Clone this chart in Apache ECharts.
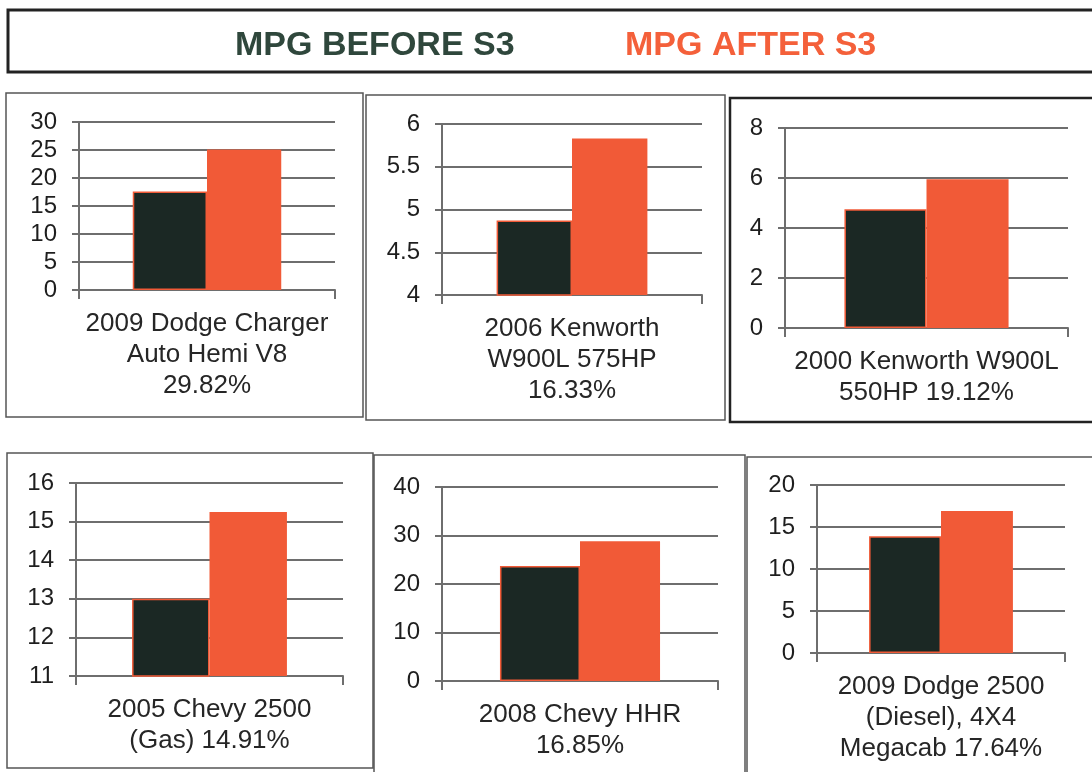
<!DOCTYPE html>
<html>
<head>
<meta charset="utf-8">
<script src="https://cdn.jsdelivr.net/npm/echarts@6/dist/echarts.min.js"></script>
<style>
html,body{margin:0;padding:0;background:#fff;}
#chart{width:1092px;height:772px;}
</style>
</head>
<body>
<div id="chart"></div>
<script>
// ---- data ----
const legendTitles = ['MPG BEFORE S3', 'MPG AFTER S3'];
const categories = [
  '2009 Dodge Charger\nAuto Hemi V8\n29.82%',
  '2006 Kenworth\nW900L 575HP\n16.33%',
  '2000 Kenworth W900L\n550HP 19.12%',
  '2005 Chevy 2500\n(Gas) 14.91%',
  '2008 Chevy HHR\n16.85%',
  '2009 Dodge 2500\n(Diesel), 4X4\nMegacab 17.64%'
];
const mpgBefore = [17.6, 4.87, 4.75, 13.0, 23.7, 13.9];
const mpgAfter  = [25.1, 5.83, 5.95, 15.25, 28.8, 16.9];
const yMin      = [0, 4, 0, 11, 0, 0];
const yMax      = [30, 6, 8, 16, 40, 20];
const yStep     = [5, 0.5, 2, 1, 10, 5];

// ---- layout ----
const grids = [
  {left: 79,  top: 122, width: 256, height: 168},
  {left: 442, top: 124, width: 260, height: 171},
  {left: 785, top: 128, width: 283, height: 200},
  {left: 76,  top: 483, width: 267, height: 193},
  {left: 442, top: 487, width: 276, height: 194},
  {left: 817, top: 485, width: 248, height: 168}
];
const boxes = [
  {x: 6,   y: 93,  w: 357, h: 324, c: '#555', lw: 1.5},
  {x: 366, y: 95,  w: 359, h: 325, c: '#555', lw: 1.5},
  {x: 730, y: 98,  w: 380, h: 324, c: '#222', lw: 2.5},
  {x: 7,   y: 453, w: 366, h: 315, c: '#555', lw: 1.5},
  {x: 374, y: 455, w: 371, h: 330, c: '#555', lw: 1.5},
  {x: 747, y: 457, w: 360, h: 330, c: '#555', lw: 1.5}
];

const DARK = '#1b2824';
const ORANGE = '#f15a37';
const GRAY = '#6e6e6e';
const FONT = '"Liberation Sans", Arial, sans-serif';

const chart = echarts.init(document.getElementById('chart'), null, {renderer: 'canvas'});

const xAxes = [], yAxes = [], series = [];
grids.forEach((g, i) => {
  xAxes.push({
    type: 'category', gridIndex: i, data: [categories[i]],
    axisLine: {show: true, lineStyle: {color: GRAY, width: 2}},
    axisTick: {show: true, length: 9, lineStyle: {color: GRAY, width: 2}},
    axisLabel: {fontSize: 26, lineHeight: 31, color: '#262626', margin: 18, fontFamily: FONT, interval: 0}
  });
  yAxes.push({
    type: 'value', gridIndex: i, min: yMin[i], max: yMax[i], interval: yStep[i],
    axisLine: {show: true, lineStyle: {color: GRAY, width: 2}},
    axisTick: {show: true, length: 7, lineStyle: {color: GRAY, width: 2}},
    splitLine: {show: true, lineStyle: {color: GRAY, width: 2}},
    axisLabel: {fontSize: 24, color: '#1e1e1e', margin: 22, fontFamily: FONT}
  });
  series.push({
    type: 'bar', name: legendTitles[0], xAxisIndex: i, yAxisIndex: i,
    data: [mpgBefore[i]], barGap: '0%', barCategoryGap: '42%', clip: true,
    itemStyle: {color: DARK, borderColor: ORANGE, borderWidth: 1.5},
    animation: false
  });
  series.push({
    type: 'bar', name: legendTitles[1], xAxisIndex: i, yAxisIndex: i,
    data: [mpgAfter[i]], barGap: '0%', barCategoryGap: '42%', clip: true,
    itemStyle: {color: ORANGE},
    animation: false
  });
});

const graphics = [
  {type: 'rect', shape: {x: 8, y: 10, width: 1100, height: 62},
   style: {fill: 'none', stroke: '#222', lineWidth: 3}, z: 10},
  {type: 'text', x: 235, y: 46, z: 10,
   style: {text: legendTitles[0], fill: '#2f473c', font: 'bold 34px ' + FONT, align: 'left', verticalAlign: 'middle'}},
  {type: 'text', x: 625, y: 46, z: 10,
   style: {text: legendTitles[1], fill: '#f4603a', font: 'bold 34px ' + FONT, align: 'left', verticalAlign: 'middle'}}
];
boxes.forEach(b => {
  graphics.push({type: 'rect', shape: {x: b.x, y: b.y, width: b.w, height: b.h},
    style: {fill: 'none', stroke: b.c, lineWidth: b.lw}, z: 10});
});

chart.setOption({
  backgroundColor: '#ffffff',
  animation: false,
  grid: grids.map(g => Object.assign({outerBoundsMode: 'none', containLabel: false}, g)),
  xAxis: xAxes,
  yAxis: yAxes,
  series: series,
  graphic: graphics
});
</script>
</body>
</html>
